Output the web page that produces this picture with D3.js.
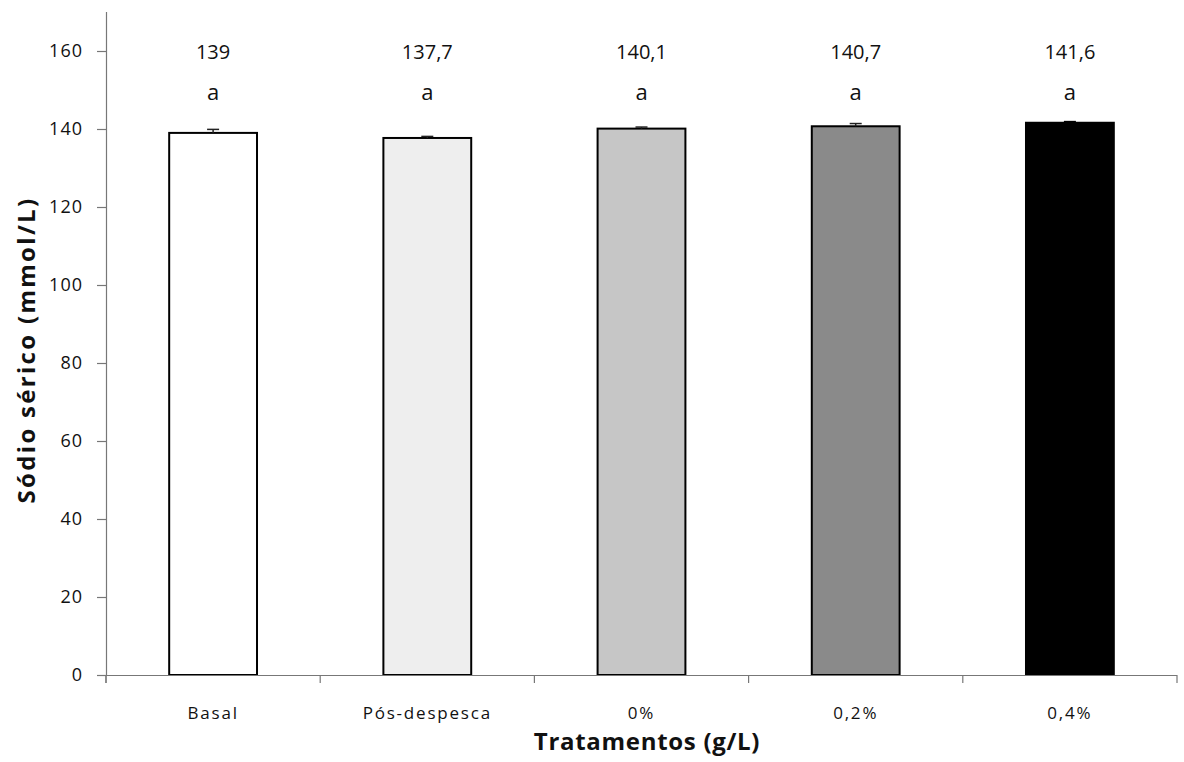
<!DOCTYPE html>
<html>
<head>
<meta charset="utf-8">
<script src="https://cdn.jsdelivr.net/npm/d3@7"></script>
<style>
  body { margin: 0; background: #fff; }
  text { font-family: "Open Sans", sans-serif; fill: #111; }
  .ticks text { font-size: 18px; letter-spacing: 1px; }
  .cats text { font-size: 17px; letter-spacing: 1.8px; }
  .title { font-weight: bold; font-size: 24px; }
</style>
</head>
<body>
<svg id="chart"></svg>
<script>
// values
let categories = ['Basal', 'Pós-despesca', '0%', '0,2%', '0,4%'];
let means = [139, 137.7, 140.1, 140.7, 141.6];
let errors = [0.9, 0.4, 0.4, 0.7, 0.3];
let valueLabels = ['139', '137,7', '140,1', '140,7', '141,6'];
let letters = ['a', 'a', 'a', 'a', 'a'];
let yTicks = [0, 20, 40, 60, 80, 100, 120, 140, 160];
let fills = ['#ffffff', '#eeeeee', '#c6c6c6', '#8a8a8a', '#000000'];

function makeChart() {
  let w = 1184;
  let h = 762;

  let marginT = 12;
  let marginL = 106;
  let marginR = 7;
  let marginB = 87;

  let chart = d3.select('#chart')
    .attr('width', w)
    .attr('height', h);

  let xScale = d3.scaleBand()
    .domain(categories)
    .range([marginL, w - marginR])
    .paddingInner(0.59)
    .paddingOuter(0.295);

  // plain band scale for the category tick marks
  let xTicksScale = d3.scaleBand()
    .domain(categories)
    .range([marginL, w - marginR]);

  let yScale = d3.scaleLinear()
    .domain([0, 170])
    .range([h - marginB, marginT]);

  //bars
  chart.selectAll('rect.bar')
    .data(means)
    .enter()
    .append('rect')
    .attr('class', 'bar')
    .attr('x', (d, i) => xScale(categories[i]))
    .attr('y', d => yScale(d))
    .attr('width', xScale.bandwidth())
    .attr('height', d => yScale(0) - yScale(d))
    .style('fill', (d, i) => fills[i])
    .style('stroke', '#000')
    .style('stroke-width', 2);

  //error bars (upper only)
  let err = chart.selectAll('g.err')
    .data(means)
    .enter()
    .append('g')
    .attr('class', 'err')
    .attr('transform', (d, i) => `translate(${xScale(categories[i]) + xScale.bandwidth() / 2}, 0)`)
    .style('stroke', (d, i) => i == 4 ? '#000' : '#222')
    .style('stroke-width', 1.5);

  err.append('line')
    .attr('x1', 0).attr('x2', 0)
    .attr('y1', d => yScale(d))
    .attr('y2', (d, i) => yScale(d + errors[i]));

  err.append('line')
    .attr('x1', -6).attr('x2', 6)
    .attr('y1', (d, i) => yScale(d + errors[i]))
    .attr('y2', (d, i) => yScale(d + errors[i]));

  //value and letter labels above the bars
  chart.selectAll('text.val')
    .data(valueLabels)
    .enter()
    .append('text')
    .attr('class', 'val')
    .attr('x', (d, i) => xScale(categories[i]) + xScale.bandwidth() / 2)
    .attr('y', yScale(158))
    .style('text-anchor', 'middle')
    .style('font-size', '20px')
    .text(d => d);

  chart.selectAll('text.letter')
    .data(letters)
    .enter()
    .append('text')
    .attr('class', 'letter')
    .attr('x', (d, i) => xScale(categories[i]) + xScale.bandwidth() / 2)
    .attr('y', yScale(147.5))
    .style('text-anchor', 'middle')
    .style('font-size', '22px')
    .text(d => d);

  //AXES
  let xAxis = d3.axisBottom(xTicksScale).tickSize(8).tickPadding(24);
  let yAxis = d3.axisLeft(yScale).tickValues(yTicks).tickSize(9).tickPadding(14);

  let gx = chart.append('g')
    .attr('class', 'ticks cats')
    .attr('transform', `translate(0, ${h - marginB})`)
    .call(xAxis);
  gx.select('.domain').attr('d', `M${marginL - 9},0.5H${w - marginR}V8`);
  // ticks sit on band edges, labels in the middle
  gx.selectAll('.tick line')
    .attr('x1', -xTicksScale.bandwidth() / 2)
    .attr('x2', -xTicksScale.bandwidth() / 2);
  gx.insert('line', ':first-child')
    .attr('x1', marginL).attr('x2', marginL)
    .attr('y1', 0).attr('y2', 8);

  let gy = chart.append('g')
    .attr('class', 'ticks')
    .attr('transform', `translate(${marginL}, 0)`)
    .call(yAxis);
  gy.select('.domain').attr('d', `M0.5,${marginT}V${h - marginB}`);

  chart.selectAll('.domain, .tick line, g.ticks > line')
    .style('stroke', '#777')
    .style('stroke-width', 1.2);

  //LABELS
  chart.append('text')
    .attr('class', 'title')
    .attr('x', 647)
    .attr('y', h - 12)
    .style('text-anchor', 'middle')
    .style('letter-spacing', '0.7px')
    .text('Tratamentos (g/L)');

  chart.append('text')
    .attr('class', 'title')
    .attr('transform', 'rotate(-90)')
    .attr('x', -350)
    .attr('y', 35)
    .style('text-anchor', 'middle')
    .style('letter-spacing', '2.3px')
    .text('Sódio sérico (mmol/L)');
}

window.onload = function () {
  makeChart();
}
</script>
</body>
</html>
